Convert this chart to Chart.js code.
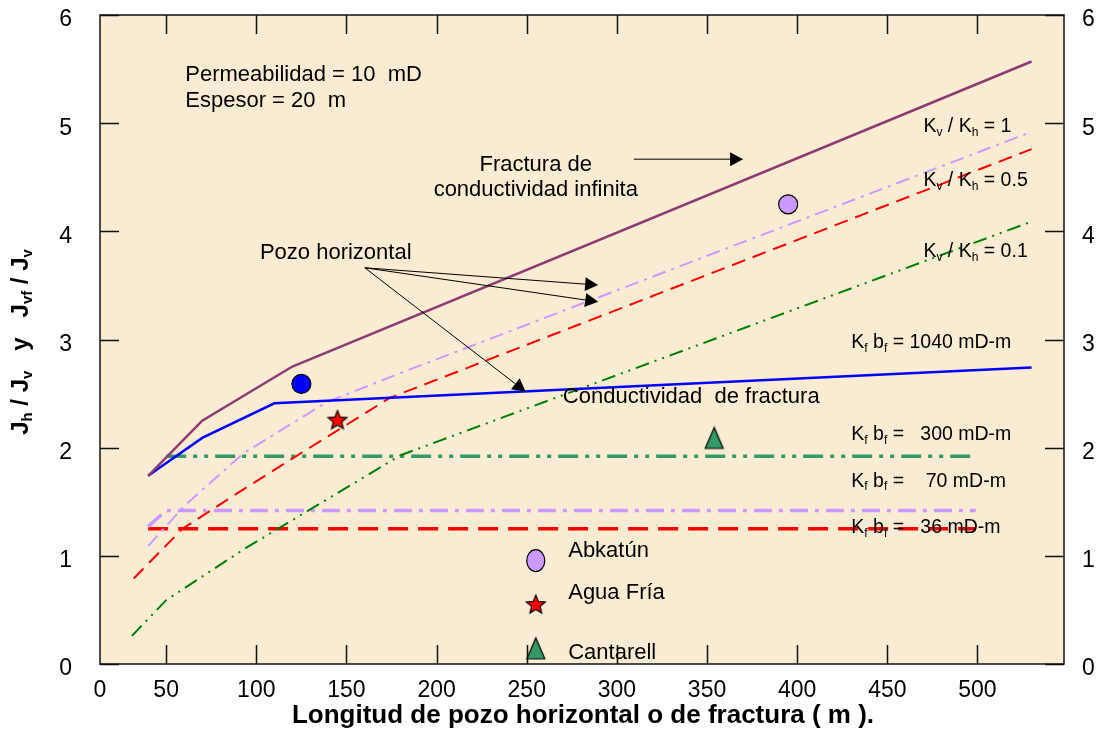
<!DOCTYPE html>
<html>
<head>
<meta charset="utf-8">
<script src="https://cdn.jsdelivr.net/npm/chart.js@4.4.0/dist/chart.umd.min.js"></script>
<style>
  html, body { margin: 0; padding: 0; background: #fff; }
  #wrap { width: 1099px; height: 731px; }
</style>
</head>
<body>
<div id="wrap"><canvas id="productividad" width="1099" height="731"></canvas></div>
<script>
'use strict'

// fractura de conductividad infinita
var infX = [40, 70, 120, 530];
var infY = [1.74, 2.25, 2.75, 5.57];
// fractura con Kf bf = 1040 mD-m
var kf1040X = [40, 70, 110, 530];
var kf1040Y = [1.74, 2.09, 2.41, 2.74];
// pozo horizontal, Kv / Kh = 1
var kv1X = [40, 60, 93, 139, 180, 530];
var kv1Y = [1.09, 1.46, 1.95, 2.42, 2.69, 4.92];
// pozo horizontal, Kv / Kh = 0.5
var kv05X = [32, 59, 84, 121, 174, 530];
var kv05Y = [0.79, 1.25, 1.52, 1.91, 2.46, 4.76];
// pozo horizontal, Kv / Kh = 0.1
var kv01X = [31, 50, 93, 180, 530];
var kv01Y = [0.26, 0.59, 1.06, 1.93, 4.09];
// fracturas de conductividad baja
var kf300X = [50, 497];
var kf300Y = [1.92, 1.92];
var kf70X = [40, 50, 499];
var kf70Y = [1.27, 1.42, 1.42];
var kf36X = [40, 499];
var kf36Y = [1.25, 1.25];
// campos
var campos = ['Abkatún', 'Agua Fría', 'Cantarell'];
var camposX = [395, 145, 354];
var camposY = [4.25, 2.25, 2.09];
var pozoX = [125];
var pozoY = [2.59];

var xTicks = [13.3, 50, 100, 150, 200, 250, 300, 350, 400, 450, 500];
var xTickLabels = ['0', '50', '100', '150', '200', '250', '300', '350', '400', '450', '500'];
var yTicks = [0, 1, 2, 3, 4, 5, 6];

var FAM = "'Liberation Sans', Arial, sans-serif";

function puntos(xs, ys) {
  return xs.map(function (x, i) { return { x: x, y: ys[i] }; });
}

function estrella(r, fill) {
  var c = document.createElement('canvas');
  c.width = c.height = 2 * r + 4;
  var g = c.getContext('2d');
  g.beginPath();
  for (var i = 0; i < 10; i++) {
    var a = -Math.PI / 2 + i * Math.PI / 5;
    var rr = i % 2 ? r * 0.45 : r;
    g.lineTo(r + 2 + rr * Math.cos(a), r + 2 + rr * Math.sin(a));
  }
  g.closePath();
  g.fillStyle = fill; g.fill();
  g.strokeStyle = '#000'; g.lineWidth = 1.2; g.stroke();
  return c;
}

function triangulo(w, h, fill) {
  var c = document.createElement('canvas');
  c.width = w + 4; c.height = h + 4;
  var g = c.getContext('2d');
  g.beginPath();
  g.moveTo(w / 2 + 2, 2); g.lineTo(w + 2, h + 2); g.lineTo(2, h + 2);
  g.closePath();
  g.fillStyle = fill; g.fill();
  g.strokeStyle = '#000'; g.lineWidth = 1.2; g.stroke();
  return c;
}

var imgEstrella = estrella(10, '#FF0000');
var imgTriangulo = triangulo(18, 21, '#339966');

// texto con subindices: partes = [[texto, esSub], ...]
function textoRico(ctx, partes, x, y, size, bold, align) {
  var w = bold ? 'bold ' : '';
  var total = 0;
  partes.forEach(function (p) {
    ctx.font = w + (p[1] ? size * 0.62 : size) + 'px ' + FAM;
    total += ctx.measureText(p[0]).width;
  });
  var cx = align === 'center' ? x - total / 2 : x;
  ctx.textAlign = 'left';
  ctx.textBaseline = 'middle';
  partes.forEach(function (p) {
    ctx.font = w + (p[1] ? size * 0.62 : size) + 'px ' + FAM;
    ctx.fillText(p[0], cx, y + (p[1] ? size * 0.3 : 0));
    cx += ctx.measureText(p[0]).width;
  });
}

function flecha(ctx, x0, y0, x1, y1) {
  var a = Math.atan2(y1 - y0, x1 - x0);
  var L = 13, W = 7;
  ctx.beginPath();
  ctx.moveTo(x0, y0);
  ctx.lineTo(x1 - L * Math.cos(a), y1 - L * Math.sin(a));
  ctx.strokeStyle = '#000'; ctx.lineWidth = 1; ctx.stroke();
  ctx.beginPath();
  ctx.moveTo(x1, y1);
  ctx.lineTo(x1 - L * Math.cos(a) + W * Math.sin(a), y1 - L * Math.sin(a) - W * Math.cos(a));
  ctx.lineTo(x1 - L * Math.cos(a) - W * Math.sin(a), y1 - L * Math.sin(a) + W * Math.cos(a));
  ctx.closePath();
  ctx.fillStyle = '#000'; ctx.fill();
}

// notas sobre la grafica, en coordenadas de datos
var notasSimples = [
  ['Permeabilidad = 10  mD', 60.6, 5.45, 'left'],
  ['Espesor = 20  m', 60.6, 5.21, 'left'],
  ['Fractura de', 255, 4.61, 'center'],
  ['conductividad infinita', 255, 4.38, 'center'],
  ['Pozo horizontal', 102, 3.8, 'left'],
  ['Conductividad  de fractura', 270, 2.47, 'left']
];
var notasK = [
  [[['K', 0], ['v', 1], [' / K', 0], ['h', 1], [' = 1', 0]], 470, 4.97],
  [[['K', 0], ['v', 1], [' / K', 0], ['h', 1], [' = 0.5', 0]], 470, 4.47],
  [[['K', 0], ['v', 1], [' / K', 0], ['h', 1], [' = 0.1', 0]], 470, 3.81],
  [[['K', 0], ['f', 1], [' b', 0], ['f', 1], [' = 1040 mD-m', 0]], 430, 2.97],
  [[['K', 0], ['f', 1], [' b', 0], ['f', 1], [' =   300 mD-m', 0]], 430, 2.12],
  [[['K', 0], ['f', 1], [' b', 0], ['f', 1], [' =    70 mD-m', 0]], 430, 1.69],
  [[['K', 0], ['f', 1], [' b', 0], ['f', 1], [' =   36 mD-m', 0]], 430, 1.26]
];
var flechas = [
  [309.4, 4.667, 370, 4.667],
  [160.2, 3.663, 289.6, 3.503],
  [160.2, 3.663, 289.6, 3.348],
  [160.2, 3.663, 249.4, 2.517]
];
// leyenda de campos: x de marcador, x de texto, y de marcador, y de texto
var leyendaX = [255, 273];
var leyendaY = [[0.955, 1.044], [0.545, 0.653], [0.145, 0.099]];

var fondo = {
  id: 'fondo',
  beforeDraw: function (chart) {
    var ctx = chart.ctx, a = chart.chartArea;
    ctx.save();
    ctx.fillStyle = '#FAEBD3';
    ctx.fillRect(a.left, a.top, a.right - a.left, a.bottom - a.top);
    ctx.restore();
  }
};

var marco = {
  id: 'marco',
  afterDraw: function (chart) {
    var ctx = chart.ctx, a = chart.chartArea;
    var sx = chart.scales.x, sy = chart.scales.y;
    ctx.save();
    ctx.strokeStyle = '#111';
    ctx.lineWidth = 1.5;
    ctx.strokeRect(a.left, a.top, a.right - a.left, a.bottom - a.top);
    ctx.beginPath();
    yTicks.forEach(function (v) {
      var y = Math.round(sy.getPixelForValue(v)) + 0.5;
      ctx.moveTo(a.left, y); ctx.lineTo(a.left + 19, y);
      ctx.moveTo(a.right, y); ctx.lineTo(a.right - 19, y);
    });
    xTicks.slice(1).forEach(function (v) {
      var x = Math.round(sx.getPixelForValue(v)) + 0.5;
      ctx.moveTo(x, a.bottom); ctx.lineTo(x, a.bottom - 19);
      ctx.moveTo(x, a.top); ctx.lineTo(x, a.top + 19);
    });
    ctx.stroke();

    ctx.fillStyle = '#000';
    notasSimples.forEach(function (n) {
      ctx.font = '22px ' + FAM;
      ctx.textAlign = n[3];
      ctx.textBaseline = 'middle';
      ctx.fillText(n[0], sx.getPixelForValue(n[1]), sy.getPixelForValue(n[2]));
    });
    notasK.forEach(function (n) {
      textoRico(ctx, n[0], sx.getPixelForValue(n[1]), sy.getPixelForValue(n[2]), 19.5, false, 'left');
    });
    flechas.forEach(function (f) {
      flecha(ctx, sx.getPixelForValue(f[0]), sy.getPixelForValue(f[1]),
        sx.getPixelForValue(f[2]), sy.getPixelForValue(f[3]));
    });

    // leyenda de campos
    var mx = sx.getPixelForValue(leyendaX[0]);
    var tx = sx.getPixelForValue(leyendaX[1]);
    var m0 = sy.getPixelForValue(leyendaY[0][0]);
    ctx.beginPath();
    ctx.ellipse(mx, m0, 9, 11, 0, 0, Math.PI * 2);
    ctx.fillStyle = '#CC99FF'; ctx.fill();
    ctx.strokeStyle = '#000'; ctx.lineWidth = 1.2; ctx.stroke();
    var m1 = sy.getPixelForValue(leyendaY[1][0]);
    ctx.drawImage(imgEstrella, mx - imgEstrella.width / 2, m1 - imgEstrella.height / 2);
    var m2 = sy.getPixelForValue(leyendaY[2][0]);
    ctx.drawImage(imgTriangulo, mx - imgTriangulo.width / 2, m2 - imgTriangulo.height / 2);
    ctx.fillStyle = '#000';
    ctx.font = '22px ' + FAM;
    ctx.textAlign = 'left';
    ctx.textBaseline = 'middle';
    campos.forEach(function (c, i) {
      ctx.fillText(c, tx, sy.getPixelForValue(leyendaY[i][1]));
    });

    // titulos de ejes
    ctx.font = 'bold 26px ' + FAM;
    ctx.textAlign = 'center';
    ctx.textBaseline = 'middle';
    ctx.fillText('Longitud de pozo horizontal o de fractura ( m ).', 583, 716);
    ctx.save();
    ctx.translate(21, 342);
    ctx.rotate(-Math.PI / 2);
    textoRico(ctx, [['J', 0], ['h', 1], [' / J', 0], ['v', 1], ['   y   J', 0], ['vf', 1], [' / J', 0], ['v', 1]],
      0, 0, 24, true, 'center');
    ctx.restore();
    ctx.restore();
  }
};

function linea(xs, ys, color, ancho, guiones) {
  return {
    type: 'line',
    data: puntos(xs, ys),
    borderColor: color,
    borderWidth: ancho,
    borderDash: guiones,
    pointRadius: 0,
    fill: false,
    tension: 0
  };
}

var datasets = [
  {
    type: 'scatter', label: campos[0],
    data: [{ x: camposX[0], y: camposY[0] }],
    pointStyle: 'circle', pointRadius: 9.5,
    backgroundColor: '#CC99FF', borderColor: '#000', borderWidth: 1.2
  },
  {
    type: 'scatter', label: campos[1],
    data: [{ x: camposX[1], y: camposY[1] }],
    pointStyle: imgEstrella
  },
  {
    type: 'scatter', label: campos[2],
    data: [{ x: camposX[2], y: camposY[2] }],
    pointStyle: imgTriangulo
  },
  {
    type: 'scatter', label: 'Pozo',
    data: puntos(pozoX, pozoY),
    pointStyle: 'circle', pointRadius: 9.5,
    backgroundColor: '#0000FF', borderColor: '#000', borderWidth: 1.2
  },
  linea(infX, infY, '#8E3A73', 2.5, []),
  linea(kf1040X, kf1040Y, '#0000FF', 2.5, []),
  linea(kv1X, kv1Y, '#CC99FF', 2, [14, 6, 3, 6]),
  linea(kv05X, kv05Y, '#FF0000', 2, [14, 8]),
  linea(kv01X, kv01Y, '#008000', 2, [14, 6, 2, 6, 2, 6]),
  linea(kf300X, kf300Y, '#339966', 3.5, [20, 7, 4, 7, 4, 7]),
  linea(kf70X, kf70Y, '#CC99FF', 3.5, [18, 7, 4, 7]),
  linea(kf36X, kf36Y, '#FF0000', 3.5, [20, 10])
];

var fuenteTicks = { family: FAM, size: 23 };

// el area de trazado queda fija: sin relleno extra por las etiquetas
function sinRelleno(s) {
  s.paddingTop = 0; s.paddingBottom = 0; s.paddingLeft = 0; s.paddingRight = 0;
}

var config = {
  data: { datasets: datasets },
  options: {
    responsive: false,
    animation: false,
    devicePixelRatio: 1,
    layout: { padding: { top: 15, left: 0, right: 0, bottom: 0 } },
    plugins: { legend: { display: false }, tooltip: { enabled: false } },
    scales: {
      x: {
        type: 'linear', position: 'bottom',
        min: 13.3, max: 548,
        grid: { display: false, drawTicks: false },
        border: { display: false },
        afterBuildTicks: function (s) { s.ticks = xTicks.map(function (v) { return { value: v }; }); },
        afterFit: function (s) { s.height = 67; sinRelleno(s); },
        ticks: {
          color: '#000', font: fuenteTicks, padding: 13, maxRotation: 0, autoSkip: false,
          callback: function (v) { return xTickLabels[xTicks.indexOf(v)]; }
        }
      },
      y: {
        type: 'linear', position: 'left',
        min: 0, max: 6,
        grid: { display: false, drawTicks: false },
        border: { display: false },
        afterFit: function (s) { s.width = 100; sinRelleno(s); },
        ticks: { color: '#000', font: fuenteTicks, padding: 28, stepSize: 1, labelOffset: 5 }
      },
      y2: {
        type: 'linear', position: 'right',
        min: 0, max: 6,
        grid: { display: false, drawTicks: false },
        border: { display: false },
        afterFit: function (s) { s.width = 35; sinRelleno(s); },
        ticks: { color: '#000', font: fuenteTicks, padding: 18, stepSize: 1, labelOffset: 5 }
      }
    }
  },
  plugins: [fondo, marco]
};

new Chart(document.getElementById('productividad'), config);
</script>
</body>
</html>
